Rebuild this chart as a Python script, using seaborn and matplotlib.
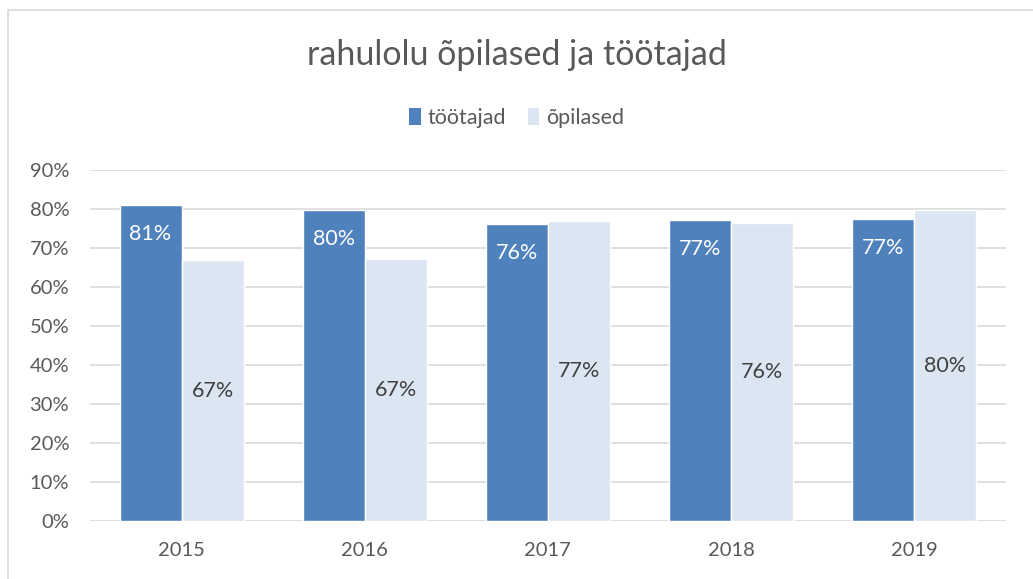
import pandas as pd
import matplotlib
matplotlib.use('Agg')
import matplotlib.pyplot as plt
import seaborn as sns
from matplotlib.patches import Rectangle, Patch
from matplotlib.ticker import PercentFormatter

years = ['2015', '2016', '2017', '2018', '2019']
tootajad = [81.0, 79.6, 76.2, 77.0, 77.4]
opilased = [66.8, 67.2, 76.8, 76.3, 79.6]
series = ['töötajad', 'õpilased']
colors = ['#4F81BD', '#DCE6F2']

sns.set_style('white')
plt.rcParams['font.family'] = ['Lato', 'DejaVu Sans']
TXT = '#595959'

df = pd.DataFrame({
    'year': years * 2,
    'series': [series[0]] * len(years) + [series[1]] * len(years),
    'value': tootajad + opilased,
})

fig = plt.figure(figsize=(10.33, 5.79), dpi=100)
ax = fig.add_axes([0.0871, 0.0997, 0.9736 - 0.0871, 0.7069 - 0.0997])

sns.barplot(data=df, x='year', y='value', hue='series', hue_order=series,
            palette=colors, width=0.677, gap=0, saturation=1, errorbar=None,
            ax=ax, legend=False)

ax.set_ylim(0, 90)
ax.set_xlim(-0.5, len(years) - 0.5)
ax.set_yticks(range(0, 91, 10))
ax.yaxis.set_major_formatter(PercentFormatter(decimals=0))
ax.grid(axis='y', color='#D9D9D9', linewidth=1.2)
ax.set_axisbelow(True)
for s in ax.spines.values():
    s.set_visible(False)
ax.tick_params(axis='both', length=0, labelsize=14.5, colors=TXT)
ax.tick_params(axis='y', pad=15)
ax.tick_params(axis='x', pad=15)
ax.set_xlabel('')
ax.set_ylabel('')

# andmesildid
c0, c1 = ax.containers[0], ax.containers[1]
ax.bar_label(c0, labels=[f'{v:.0f}%' for v in tootajad], label_type='edge',
             padding=-28, color='white', fontsize=15.5)
ax.bar_label(c1, labels=[f'{v:.0f}%' for v in opilased], label_type='center',
             color='#404040', fontsize=15.5)

fig.text(0.5, 1 - 55 / 579, 'rahulolu õpilased ja töötajad', ha='center',
         va='center', fontsize=24.5, color=TXT)

handles = [Patch(facecolor=c, edgecolor='none') for c in colors]
fig.legend(handles, series, loc='center', bbox_to_anchor=(0.5, 0.796), ncol=2,
           frameon=False, fontsize=15.5, labelcolor=TXT, handlelength=0.55,
           handleheight=0.8, handletextpad=0.3, columnspacing=1.0)

fig.patches.append(Rectangle((8 / 1033, -0.01), 1.0, 1 - 9.5 / 579 + 0.01,
                             transform=fig.transFigure, fill=False,
                             edgecolor='#D9D9D9', linewidth=1.2, zorder=0))

fig.savefig('out.png', dpi=100)
